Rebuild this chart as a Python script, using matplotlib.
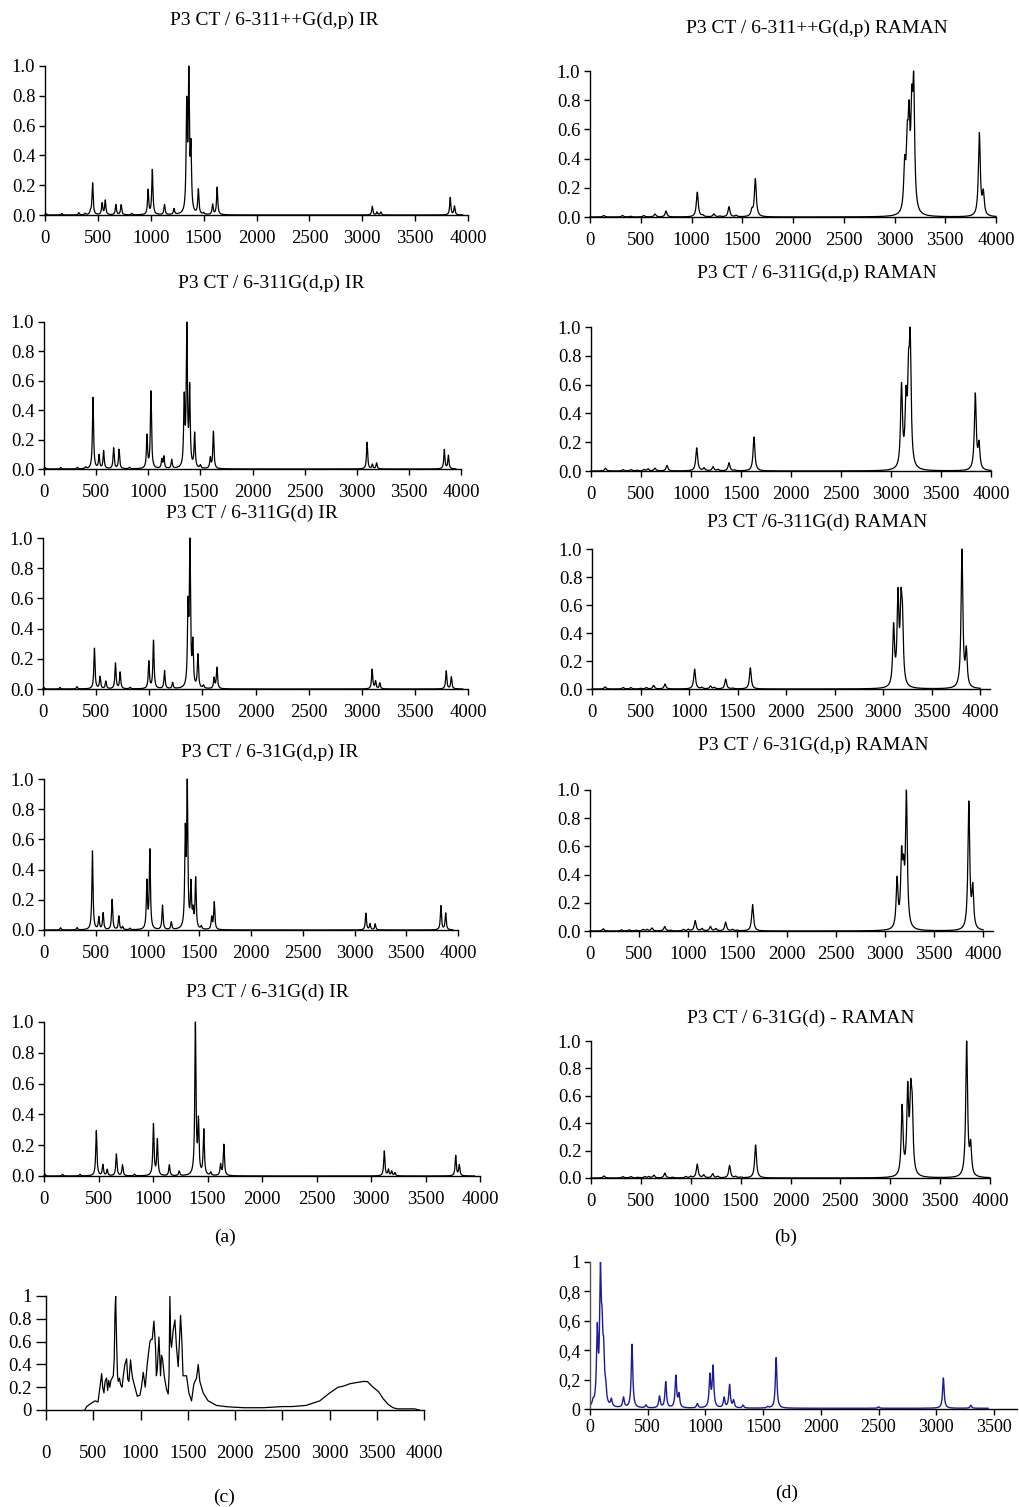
import matplotlib
matplotlib.use("Agg")
import matplotlib.pyplot as plt
import numpy as np

plt.rcParams['font.family'] = ['Liberation Serif', 'DejaVu Serif']

# ============================================================
# PEAK LISTS (wavenumber, relative intensity)
# ============================================================

# (a) computed IR
ir_311ppdp_pos = [10, 160, 320, 380, 430, 450, 540, 570, 670, 720, 820, 975, 1015, 1130, 1220,
                  1340, 1360, 1380, 1450, 1500, 1585, 1628, 3095, 3140, 3175, 3832, 3872]
ir_311ppdp_int = [0.01, 0.01, 0.015, 0.01, 0.02, 0.22, 0.08, 0.10, 0.07, 0.07, 0.01, 0.17, 0.31, 0.07, 0.04,
                  0.72, 0.92, 0.42, 0.17, 0.01, 0.07, 0.19, 0.06, 0.02, 0.02, 0.12, 0.06]

ir_311dp_pos = [10, 160, 320, 400, 470, 528, 572, 668, 720, 820, 988, 1026, 1130, 1150, 1225,
                1345, 1370, 1397, 1445, 1500, 1595, 1625, 3099, 3150, 3190, 3840, 3879]
ir_311dp_int = [0.01, 0.01, 0.01, 0.01, 0.48, 0.09, 0.12, 0.14, 0.13, 0.01, 0.22, 0.52, 0.06, 0.08, 0.06,
                0.45, 0.93, 0.52, 0.23, 0.02, 0.07, 0.25, 0.18, 0.03, 0.04, 0.13, 0.09]

ir_311d_pos = [10, 160, 320, 484, 537, 591, 682, 726, 820, 996, 1040, 1144, 1220,
               1365, 1383, 1410, 1458, 1510, 1610, 1637, 3098, 3130, 3170, 3795, 3843]
ir_311d_int = [0.01, 0.01, 0.015, 0.27, 0.08, 0.05, 0.17, 0.11, 0.01, 0.18, 0.32, 0.12, 0.04,
               0.5, 0.93, 0.28, 0.22, 0.02, 0.07, 0.14, 0.13, 0.05, 0.04, 0.12, 0.08]

ir_31dp_pos = [160, 320, 468, 530, 571, 658, 723, 760, 830, 994, 1023, 1145, 1230,
               1365, 1384, 1420, 1440, 1465, 1520, 1620, 1645, 3110, 3150, 3200, 3835, 3881]
ir_31dp_int = [0.015, 0.015, 0.52, 0.08, 0.11, 0.2, 0.09, 0.02, 0.01, 0.31, 0.52, 0.16, 0.05,
               0.6, 0.92, 0.28, 0.1, 0.33, 0.02, 0.08, 0.18, 0.11, 0.04, 0.04, 0.16, 0.11]

ir_31d_pos = [10, 170, 330, 480, 540, 580, 664, 720, 830, 1004, 1040, 1150, 1240,
              1389, 1417, 1466, 1530, 1620, 1650, 3122, 3160, 3190, 3220, 3777, 3810]
ir_31d_int = [0.01, 0.01, 0.01, 0.29, 0.07, 0.04, 0.14, 0.07, 0.01, 0.33, 0.23, 0.07, 0.03,
              0.97, 0.33, 0.29, 0.02, 0.07, 0.2, 0.16, 0.04, 0.03, 0.02, 0.13, 0.07]

# (b) computed Raman
ra_311ppdp_pos = [135, 320, 400, 530, 640, 749, 1057, 1110, 1220, 1280, 1369, 1440, 1595, 1629,
                  3100, 3125, 3143, 3170, 3189, 3836, 3875]
ra_311ppdp_int = [0.01, 0.01, 0.005, 0.01, 0.02, 0.04, 0.17, 0.01, 0.02, 0.005, 0.07, 0.01, 0.04, 0.26,
                  0.3, 0.4, 0.55, 0.6, 0.8, 0.57, 0.15]

ra_311dp_pos = [145, 320, 400, 460, 530, 570, 640, 760, 1057, 1130, 1220, 1270, 1380, 1440, 1630,
                3105, 3150, 3175, 3192, 3843, 3880]
ra_311dp_int = [0.02, 0.01, 0.01, 0.005, 0.01, 0.015, 0.02, 0.04, 0.17, 0.02, 0.03, 0.01, 0.06, 0.005, 0.25,
                0.6, 0.45, 0.55, 0.85, 0.56, 0.18]

ra_311d_pos = [135, 320, 400, 500, 560, 635, 752, 1057, 1130, 1220, 1260, 1377, 1450, 1631,
               3107, 3152, 3183, 3198, 3811, 3856]
ra_311d_int = [0.015, 0.01, 0.01, 0.005, 0.01, 0.025, 0.035, 0.14, 0.01, 0.02, 0.01, 0.07, 0.005, 0.15,
               0.42, 0.62, 0.5, 0.4, 0.98, 0.25]

ra_31dp_pos = [135, 320, 400, 470, 540, 580, 630, 760, 820, 950, 1000, 1070, 1140, 1225, 1280,
               1380, 1450, 1500, 1654, 3124, 3170, 3190, 3219, 3854, 3894]
ra_31dp_int = [0.015, 0.008, 0.008, 0.005, 0.01, 0.01, 0.02, 0.03, 0.005, 0.01, 0.01, 0.07, 0.015, 0.03, 0.015,
               0.06, 0.01, 0.005, 0.18, 0.33, 0.45, 0.3, 0.9, 0.87, 0.27]

ra_31d_pos = [130, 320, 400, 470, 540, 580, 630, 740, 820, 950, 1000, 1065, 1130, 1220, 1270,
              1389, 1450, 1500, 1650, 3119, 3175, 3205, 3220, 3766, 3806]
ra_31d_int = [0.015, 0.01, 0.01, 0.005, 0.01, 0.01, 0.02, 0.035, 0.005, 0.01, 0.01, 0.1, 0.02, 0.03, 0.01,
              0.09, 0.01, 0.005, 0.24, 0.5, 0.6, 0.5, 0.4, 0.98, 0.21]

# (c) experimental IR, traced points
exp_ir_x = [410, 430, 480, 520, 550, 571, 589, 600, 613, 625, 641, 652, 663, 675, 687, 700, 712, 722, 730,
            737, 747, 757, 765, 778, 790, 805, 818, 835, 853, 865, 877, 895, 905, 916, 941, 966, 994,
            1010, 1029, 1050, 1071, 1085, 1100, 1112, 1124, 1142, 1159, 1168, 1177, 1195, 1212, 1222,
            1233, 1251, 1276, 1293, 1302, 1311, 1320, 1328, 1346, 1364, 1381, 1399, 1412, 1424, 1438,
            1450, 1462, 1487, 1512, 1540, 1565, 1593, 1611, 1628, 1663, 1716, 1804, 1900, 1981, 2100,
            2300, 2500, 2600, 2750, 2897, 3003, 3091, 3150, 3214, 3280, 3355, 3400, 3461, 3520, 3567,
            3620, 3672, 3720, 3780, 3850, 3900, 3950]
exp_ir_y = [0.0, 0.03, 0.06, 0.08, 0.07, 0.2, 0.32, 0.2, 0.15, 0.25, 0.28, 0.17, 0.26, 0.2, 0.26, 0.28, 0.3,
            0.45, 0.85, 1.0, 0.6, 0.3, 0.25, 0.28, 0.22, 0.2, 0.3, 0.4, 0.45, 0.27, 0.25, 0.44, 0.35,
            0.28, 0.2, 0.12, 0.13, 0.2, 0.33, 0.2, 0.4, 0.5, 0.6, 0.62, 0.62, 0.78, 0.55, 0.3, 0.35,
            0.64, 0.3, 0.48, 0.45, 0.3, 0.18, 0.14, 0.3, 1.0, 0.6, 0.55, 0.7, 0.79, 0.55, 0.38, 0.6,
            0.83, 0.6, 0.3, 0.3, 0.3, 0.15, 0.08, 0.23, 0.28, 0.4, 0.25, 0.15, 0.08, 0.04, 0.03, 0.025,
            0.02, 0.02, 0.03, 0.03, 0.04, 0.08, 0.15, 0.2, 0.21, 0.23, 0.24, 0.25, 0.25, 0.2, 0.16, 0.1,
            0.05, 0.02, 0.01, 0.01, 0.01, 0.01, 0.0]

# (d) experimental Raman
exp_ra_pos = [27, 63, 90, 104, 118, 135, 185, 290, 364, 485, 602, 656, 744, 771, 930, 1039, 1066, 1162,
              1209, 1244, 1326, 1540, 1613, 2500, 3062, 3300]
exp_ra_int = [0.03, 0.5, 0.85, 0.4, 0.3, 0.1, 0.05, 0.07, 0.44, 0.02, 0.08, 0.18, 0.22, 0.09, 0.03, 0.22, 0.28, 0.07,
              0.16, 0.05, 0.02, 0.01, 0.35, 0.01, 0.21, 0.02]

ir_titles = ['P3 CT / 6-311++G(d,p) IR', 'P3 CT / 6-311G(d,p) IR', 'P3 CT / 6-311G(d) IR',
             'P3 CT / 6-31G(d,p) IR', 'P3 CT / 6-31G(d) IR']
ra_titles = ['P3 CT / 6-311++G(d,p) RAMAN', 'P3 CT / 6-311G(d,p) RAMAN', 'P3 CT /6-311G(d) RAMAN',
             'P3 CT / 6-31G(d,p) RAMAN', 'P3 CT / 6-31G(d) - RAMAN']

# ============================================================
# LAYOUT (pixels of a 1019x1507 canvas)
# ============================================================
W, H = 1019, 1507
fig = plt.figure(figsize=(W / 100, H / 100), dpi=100)


def add_ax(left, right, top, bottom):
    return fig.add_axes([left / W, 1 - bottom / H, (right - left) / W, (bottom - top) / H])


def spectrum(pos, inten, hw, xmax):
    grid = np.linspace(0, xmax, 6001)
    y = np.zeros_like(grid)
    for p, a in zip(pos, inten):
        y += a / (1 + ((grid - p) / hw) ** 2)
    return grid, y / y.max()


def style(ax, xmax, yticks, ylabels, xpad=7, tlen=4, fs=13.5):
    for s in ['top', 'right']:
        ax.spines[s].set_visible(False)
    for s in ['left', 'bottom']:
        ax.spines[s].set_linewidth(1.0)
    ax.set_xlim(0, xmax)
    ax.set_ylim(0, 1)
    ax.set_yticks(yticks)
    ax.set_yticklabels(ylabels)
    ax.tick_params(direction='out', length=tlen, width=1, labelsize=fs)
    ax.tick_params(axis='x', pad=xpad)
    ax.tick_params(axis='y', pad=3)


ir_boxes = [(45, 468, 66, 215), (44, 461, 322, 469), (43, 468, 538, 689),
            (44, 458, 779, 930), (44, 480, 1022, 1176)]
ra_boxes = [(590, 996, 71, 217, 4000), (591, 991, 327, 471, 4000), (592, 990, 549, 689, 4100),
            (590, 993, 790, 931, 4100), (591, 990, 1041, 1178, 4000)]
ir_title_xy = [(274, 20), (271, 283), (252, 513), (270, 752), (267, 992)]
ra_title_xy = [(817, 28), (817, 273), (817, 522), (813, 745), (801, 1018)]

ir_data = [(ir_311ppdp_pos, ir_311ppdp_int), (ir_311dp_pos, ir_311dp_int), (ir_311d_pos, ir_311d_int),
           (ir_31dp_pos, ir_31dp_int), (ir_31d_pos, ir_31d_int)]
ra_data = [(ra_311ppdp_pos, ra_311ppdp_int), (ra_311dp_pos, ra_311dp_int), (ra_311d_pos, ra_311d_int),
           (ra_31dp_pos, ra_31dp_int), (ra_31d_pos, ra_31d_int)]

yt = [0, 0.2, 0.4, 0.6, 0.8, 1.0]
yl = ['0.0', '0.2', '0.4', '0.6', '0.8', '1.0']
xt = [0, 500, 1000, 1500, 2000, 2500, 3000, 3500, 4000]

for i in range(5):
    # IR column
    l, r, t, b = ir_boxes[i]
    ax = add_ax(l, r, t, b)
    x, y = spectrum(*ir_data[i], hw=6.5, xmax=3950)
    ax.plot(x, y, color='black', lw=0.9, clip_on=False)
    style(ax, 4000, yt, yl)
    ax.set_xticks(xt)
    fig.text(ir_title_xy[i][0] / W, 1 - ir_title_xy[i][1] / H, ir_titles[i],
             ha='center', va='center', fontsize=14)

    # Raman column
    l, r, t, b, xm = ra_boxes[i]
    ax = add_ax(l, r, t, b)
    x, y = spectrum(*ra_data[i], hw=11, xmax=4000)
    ax.plot(x, y, color='black', lw=0.9, clip_on=False)
    style(ax, xm, yt, yl)
    ax.set_xticks(xt)
    fig.text(ra_title_xy[i][0] / W, 1 - ra_title_xy[i][1] / H, ra_titles[i],
             ha='center', va='center', fontsize=14)

# (c) experimental IR
ax = add_ax(46, 424, 1296, 1410)
ax.plot(exp_ir_x, exp_ir_y, color='black', lw=0.9)
style(ax, 4000, yt, ['0', '0.2', '0.4', '0.6', '0.8', '1'], xpad=18, tlen=7)
ax.set_xticks(xt)

# (d) experimental Raman
ax = add_ax(590, 1017, 1262, 1409)
x, y = spectrum(exp_ra_pos, exp_ra_int, hw=8, xmax=3450)
y = y + 0.005
ax.plot(x, y, color='#1c1c96', lw=1.0)
style(ax, 3700, yt, ['0', '0,2', '0,4', '0,6', '0,8', '1'], xpad=3, fs=13)
ax.spines['left'].set_color('#555555')
ax.set_xticks([0, 500, 1000, 1500, 2000, 2500, 3000, 3500])

for lab, px, py in [('(a)', 225, 1237), ('(b)', 786, 1237), ('(c)', 224, 1497), ('(d)', 787, 1493)]:
    fig.text(px / W, 1 - py / H, lab, ha='center', va='center', fontsize=14)

plt.savefig('out.png', dpi=100, facecolor='white')
